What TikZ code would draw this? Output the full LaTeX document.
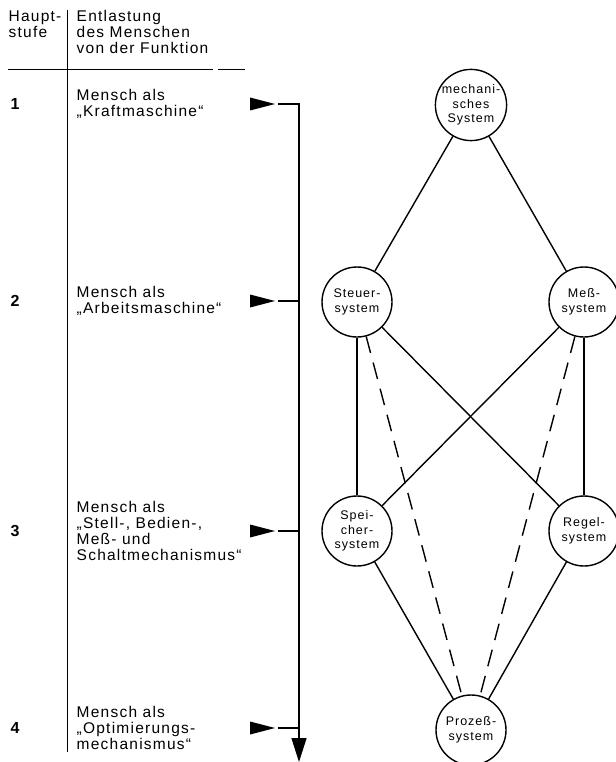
\documentclass[tikz,border=0pt]{standalone}
\usepackage{fontspec}
\setmainfont{Liberation Sans}[LetterSpace=8]
\usetikzlibrary{arrows.meta}

\tikzset{
  system/.style = {circle, draw, line width=1.4pt, minimum size=70pt, inner sep=0pt,
                   align=center, font=\fontsize{12.5}{14.5}\selectfont},
  stage/.style  = {anchor=west, align=left, inner sep=0pt,
                   font=\fontsize{15.5}{16}\selectfont},
  dashline/.style = {dash pattern=on 17pt off 10pt}
}

\begin{document}
\begin{tikzpicture}[x=1pt, y=-1pt, line width=1.4pt]
\useasboundingbox (0,0) rectangle (615,762);

% table head
\node[stage, anchor=north west] (haupt) at (8,10) {Haupt-\\stufe};
\node[stage, anchor=north west] (entlastung) at (76,10) {Entlastung\\des Menschen\\von der Funktion};
\draw[line width=1pt] (8,70) -- (213,70);
\draw[line width=1pt] (218,70) -- (245,70);
\draw[line width=1pt] (67,10) -- (67,752);

% Hauptstufen
\foreach \i/\y/\txt in {1/104/{Mensch als\\„Kraftmaschine“},
                        2/301/{Mensch als\\„Arbeitsmaschine“},
                        3/531/{Mensch als\\„Stell-, Bedien-,\\Meß- und\\Schaltmechanismus“},
                        4/728/{Mensch als\\„Optimierungs-\\mechanismus“}}
{
  \node[font=\bfseries\fontsize{16}{16}\selectfont] (nr\i) at (15,\y) {\i};
  \node[stage] (stufe\i) at (76,\y) {\txt};
  \coordinate (tick\i) at (278,\y);
  \coordinate (join\i) at (299,\y);
  \fill (250,\y-6.5) -- (275,\y) -- (250,\y+6.5) -- cycle;
  \draw (tick\i) -- (join\i);
}
\coordinate (ende) at (299,762);
\draw[-{Triangle[length=24pt,width=15pt]}] (tick1) -- (join1) -- (ende);

% Systeme
\node[system] (mech) at (471,105) {mechani-\\sches\\System};
\node[system] (steuer) at (357,302) {Steuer-\\system};
\node[system] (mess) at (584,302) {Meß-\\system};
\node[system] (speicher) at (357,531) {Spei-\\cher-\\system};
\node[system] (regel) at (584,531) {Regel-\\system};
\node[system] (prozess) at (471,730) {Prozeß-\\system};

\foreach \a/\b in {mech/steuer, mech/mess, steuer/speicher, steuer/regel,
                   mess/speicher, mess/regel, speicher/prozess, regel/prozess}
  \draw (\a) -- (\b);
\draw[dashline] (steuer) -- (prozess);
\draw[dashline] (mess) -- (prozess);
\end{tikzpicture}
\end{document}
